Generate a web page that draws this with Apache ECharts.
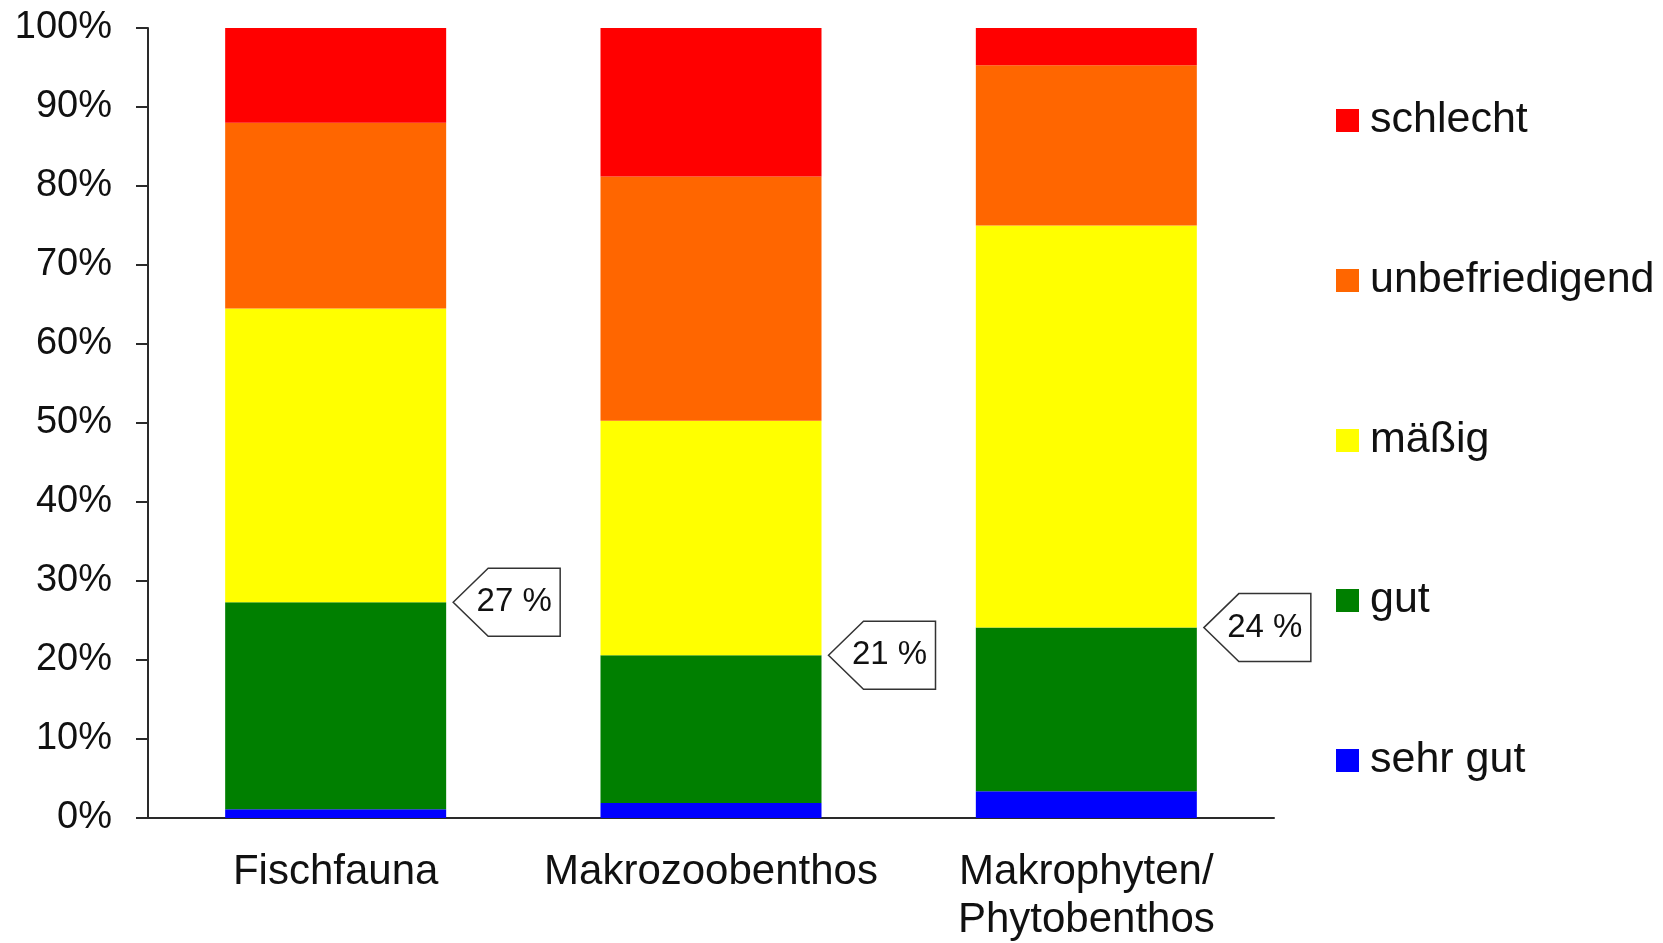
<!DOCTYPE html>
<html>
<head>
<meta charset="utf-8">
<script src="https://cdn.jsdelivr.net/npm/echarts@6/dist/echarts.min.js"></script>
<style>
  html, body { margin: 0; padding: 0; background: #fff; }
  #chart { width: 1663px; height: 943px; }
</style>
</head>
<body>
<div id="chart"></div>
<script>
// Kategorien und Anteile (%)
const categories = ['Fischfauna', 'Makrozoobenthos', 'Makrophyten/\nPhytobenthos']
const sehrGut = [1.1, 1.9, 3.4]
const gut = [26.2, 18.7, 20.7]
const maessig = [37.2, 29.7, 50.9]
const unbefriedigend = [23.5, 30.9, 20.3]
const schlecht = [12.0, 18.8, 4.7]
const calloutLabels = ['27 %', '21 %', '24 %']
const yTicks = [0, 10, 20, 30, 40, 50, 60, 70, 80, 90, 100]

const FONT = '"Liberation Sans", Arial, sans-serif'
const AXIS_COLOR = '#2a2a2a'

const chart = echarts.init(document.getElementById('chart'))

// Summe sehr gut + gut als Position der Hinweispfeile
const calloutData = categories.map((c, i) => [i, sehrGut[i] + gut[i], calloutLabels[i]])

const barSeries = (name, data, color) => ({
  name,
  type: 'bar',
  stack: 'total',
  data,
  barWidth: 221,
  itemStyle: { color },
  emphasis: { disabled: true }
})

const option = {
  animation: false,
  grid: { left: 148, right: 389, top: 28, bottom: 125, containLabel: false, outerBoundsMode: 'none' },
  legend: {
    orient: 'vertical',
    left: 1336,
    top: 99,
    padding: 0,
    icon: 'rect',
    itemWidth: 23,
    itemHeight: 23,
    itemGap: 117,
    data: ['schlecht', 'unbefriedigend', 'mäßig', 'gut', 'sehr gut'],
    textStyle: { fontFamily: FONT, fontSize: 43, color: '#111', padding: [0, 0, 0, 6] }
  },
  xAxis: {
    type: 'category',
    data: categories,
    axisLine: { lineStyle: { color: AXIS_COLOR, width: 2 } },
    axisTick: { length: 14, lineStyle: { color: AXIS_COLOR, width: 2 } },
    axisLabel: { interval: 0, fontFamily: FONT, fontSize: 42, color: '#111', margin: 30, lineHeight: 48 }
  },
  yAxis: {
    type: 'value',
    min: 0,
    max: 100,
    interval: 10,
    axisLine: { show: true, lineStyle: { color: AXIS_COLOR, width: 2 } },
    axisTick: { show: true, length: 12, lineStyle: { color: AXIS_COLOR, width: 2 } },
    splitLine: { show: false },
    axisLabel: {
      fontFamily: FONT,
      fontSize: 38,
      color: '#111',
      margin: 36,
      formatter: v => (yTicks.includes(v) ? v + '%' : '')
    }
  },
  series: [
    barSeries('sehr gut', sehrGut, '#0000ff'),
    barSeries('gut', gut, '#007f00'),
    barSeries('mäßig', maessig, '#ffff00'),
    barSeries('unbefriedigend', unbefriedigend, '#ff6600'),
    barSeries('schlecht', schlecht, '#ff0000'),
    {
      type: 'custom',
      data: calloutData,
      z: 10,
      renderItem: (params, api) => {
        const p = api.coord([api.value(0), api.value(1)])
        const x = p[0] + 110.5 + 7
        const y = p[1]
        const h = 68, w = 107, n = 35
        return {
          type: 'group',
          children: [
            {
              type: 'polygon',
              shape: { points: [[x, y], [x + n, y - h / 2], [x + w, y - h / 2], [x + w, y + h / 2], [x + n, y + h / 2]] },
              style: { fill: '#fff', stroke: '#333', lineWidth: 1.5 }
            },
            {
              type: 'text',
              style: {
                text: calloutLabels[params.dataIndex],
                x: x + 61,
                y: y,
                align: 'center',
                verticalAlign: 'middle',
                fontFamily: FONT,
                fontSize: 33,
                fill: '#111'
              }
            }
          ]
        }
      }
    }
  ]
}

chart.setOption(option)
</script>
</body>
</html>
